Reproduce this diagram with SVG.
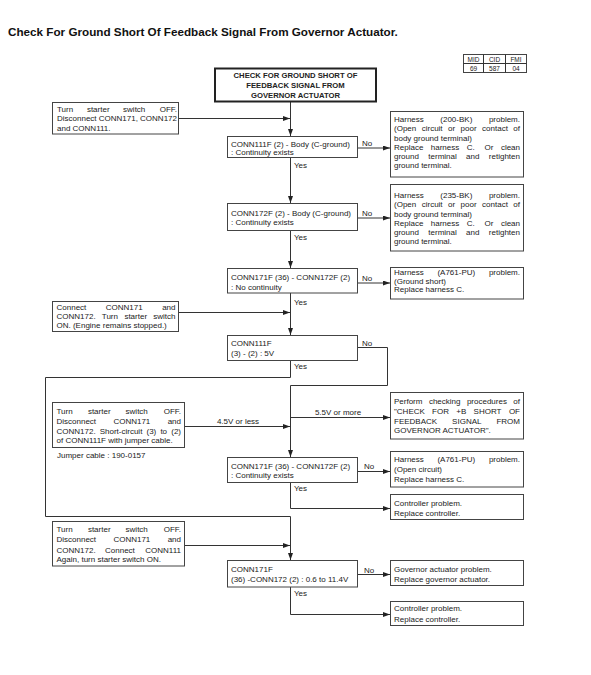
<svg xmlns="http://www.w3.org/2000/svg" width="591" height="675" viewBox="0 0 591 675">
<defs>
<marker id="ah" markerUnits="userSpaceOnUse" markerWidth="8" markerHeight="6" refX="7" refY="2.5" orient="auto">
<path d="M0,0 L7,2.5 L0,5 z" fill="#222"/>
</marker>
<style>
text{font-family:"Liberation Sans",Arial,sans-serif;fill:#222;font-size:8px}
.t{font-size:11.7px;font-weight:bold;fill:#111}
.hb{font-size:7.7px;font-weight:bold;text-anchor:middle}
.tb{font-size:6.5px;text-anchor:middle}
.box{fill:#fff;stroke:#444;stroke-width:1}
.tbox{fill:#fff;stroke:#222;stroke-width:2}
.ln{fill:none;stroke:#333;stroke-width:1}
.ar{fill:none;stroke:#333;stroke-width:1;marker-end:url(#ah)}
.e{text-anchor:end}
</style>
</defs>
<rect width="591" height="675" fill="#fff"/>
<text class="t" x="8" y="35.5">Check For Ground Short Of Feedback Signal From Governor Actuator.</text>

<g id="mid-table">
<rect class="box" x="463.5" y="54.5" width="63" height="18"/>
<line class="ln" x1="463.5" y1="63.5" x2="526.5" y2="63.5"/>
<line class="ln" x1="483.5" y1="54.5" x2="483.5" y2="72.5"/>
<line class="ln" x1="505.5" y1="54.5" x2="505.5" y2="72.5"/>
<text class="tb" x="473.5" y="61.5">MID</text>
<text class="tb" x="494.5" y="61.5">CID</text>
<text class="tb" x="516" y="61.5">FMI</text>
<text class="tb" x="473.5" y="70.5">69</text>
<text class="tb" x="494.5" y="70.5">587</text>
<text class="tb" x="516" y="70.5">04</text>
</g>

<g id="connectors">
<path class="ar" d="M290.5,102 V136"/>
<path class="ar" d="M178.5,118.5 H290"/>
<path class="ar" d="M357.5,148 H390"/>
<path class="ar" d="M290.5,157.5 V203"/>
<path class="ar" d="M357.5,218 H390"/>
<path class="ar" d="M290.5,230.5 V268"/>
<path class="ar" d="M357.5,283 H390"/>
<path class="ar" d="M290.5,293 V335"/>
<path class="ar" d="M178.5,312.5 H290"/>
<path class="ln" d="M357.5,347.5 H387.5 V385.5 H290.5"/>
<path class="ar" d="M290.5,385.5 V457"/>
<path class="ar" d="M290.5,417.5 H390"/>
<path class="ar" d="M184.5,426.5 H290"/>
<path class="ln" d="M290.5,360.5 V377.5 H45.5 V516.5 H290.5"/>
<path class="ar" d="M290.5,516.5 V560"/>
<path class="ar" d="M357.5,471.5 H390"/>
<path class="ar" d="M290.5,482.5 V508.5 H390"/>
<path class="ar" d="M184.5,545.5 H290"/>
<path class="ar" d="M357.5,574.5 H390"/>
<path class="ar" d="M290.5,587 V614.5 H390"/>
</g>

<g id="start">
<rect class="tbox" x="215" y="68.5" width="161" height="33"/>
<text class="hb" x="295.5" y="78">CHECK FOR GROUND SHORT OF</text>
<text class="hb" x="295.5" y="88">FEEDBACK SIGNAL FROM</text>
<text class="hb" x="295.5" y="98">GOVERNOR ACTUATOR</text>
</g>

<g id="step-a">
<rect class="box" x="52.5" y="102.5" width="126" height="31.5"/>
<text y="111.5"><tspan x="57">Turn</tspan><tspan x="86.9">starter</tspan><tspan x="123.1">switch</tspan><tspan x="177" class="e">OFF.</tspan></text>
<text y="121"><tspan x="57">Disconnect</tspan><tspan x="98.8">CONN171,</tspan><tspan x="177" class="e">CONN172</tspan></text>
<text x="57" y="130.5">and CONN111.</text>
</g>

<g id="q1">
<rect class="box" x="227.5" y="136.5" width="130" height="21"/>
<text x="231" y="146.5">CONN111F (2) - Body (C-ground)</text>
<text x="231" y="155">: Continuity exists</text>
</g>
<text x="362" y="146">No</text>
<text x="294" y="168">Yes</text>

<g id="r1">
<rect class="box" x="390.5" y="111.5" width="133" height="65.5"/>
<text y="122"><tspan x="394">Harness</tspan><tspan x="440.3">(200-BK)</tspan><tspan x="520" class="e">problem.</tspan></text>
<text y="131.3"><tspan x="394">(Open</tspan><tspan x="421.7">circuit</tspan><tspan x="448">or</tspan><tspan x="460.6">poor</tspan><tspan x="482.1">contact</tspan><tspan x="520" class="e">of</tspan></text>
<text x="394" y="140.5">body ground terminal)</text>
<text y="149.8"><tspan x="394">Replace</tspan><tspan x="430.8">harness</tspan><tspan x="466.8">C.</tspan><tspan x="484.5">Or</tspan><tspan x="520" class="e">clean</tspan></text>
<text y="159"><tspan x="394">ground</tspan><tspan x="428.3">terminal</tspan><tspan x="466.1">and</tspan><tspan x="520" class="e">retighten</tspan></text>
<text x="394" y="168.3">ground terminal.</text>
</g>

<g id="q2">
<rect class="box" x="227.5" y="203.5" width="130" height="27"/>
<text x="231" y="215.5">CONN172F (2) - Body (C-ground)</text>
<text x="231" y="225">: Continuity exists</text>
</g>
<text x="362" y="216">No</text>
<text x="294" y="240">Yes</text>

<g id="r2">
<rect class="box" x="390.5" y="184.5" width="133" height="66.5"/>
<text y="198"><tspan x="394">Harness</tspan><tspan x="440.3">(235-BK)</tspan><tspan x="520" class="e">problem.</tspan></text>
<text y="207.3"><tspan x="394">(Open</tspan><tspan x="421.7">circuit</tspan><tspan x="448">or</tspan><tspan x="460.6">poor</tspan><tspan x="482.1">contact</tspan><tspan x="520" class="e">of</tspan></text>
<text x="394" y="216.5">body ground terminal)</text>
<text y="225.8"><tspan x="394">Replace</tspan><tspan x="430.8">harness</tspan><tspan x="466.8">C.</tspan><tspan x="484.5">Or</tspan><tspan x="520" class="e">clean</tspan></text>
<text y="235"><tspan x="394">ground</tspan><tspan x="428.3">terminal</tspan><tspan x="466.1">and</tspan><tspan x="520" class="e">retighten</tspan></text>
<text x="394" y="244.3">ground terminal.</text>
</g>

<g id="q3">
<rect class="box" x="227.5" y="268.5" width="130" height="24.5"/>
<text x="231" y="280">CONN171F (36) - CONN172F (2)</text>
<text x="231" y="289.5">: No continuity</text>
</g>
<text x="362" y="281">No</text>
<text x="294" y="305">Yes</text>

<g id="r3">
<rect class="box" x="390.5" y="267.5" width="133" height="31.5"/>
<text y="275"><tspan x="394">Harness</tspan><tspan x="437.4">(A761-PU)</tspan><tspan x="520" class="e">problem.</tspan></text>
<text x="394" y="283.5">(Ground short)</text>
<text x="394" y="292">Replace harness C.</text>
</g>

<g id="step-b">
<rect class="box" x="52.5" y="301.5" width="126" height="30"/>
<text y="310"><tspan x="56.5">Connect</tspan><tspan x="105.8">CONN171</tspan><tspan x="175.5" class="e">and</tspan></text>
<text y="319"><tspan x="56.5">CONN172.</tspan><tspan x="101.8">Turn</tspan><tspan x="124.4">starter</tspan><tspan x="175.5" class="e">switch</tspan></text>
<text x="56.5" y="328">ON. (Engine remains stopped.)</text>
</g>

<g id="q4">
<rect class="box" x="227.5" y="335.5" width="130" height="25"/>
<text x="231" y="346">CONN111F</text>
<text x="231" y="356">(3) - (2) : 5V</text>
</g>
<text x="362" y="345.5">No</text>
<text x="294" y="369">Yes</text>

<g id="step-c">
<rect class="box" x="52.5" y="402.5" width="132" height="45"/>
<text y="413.5"><tspan x="56.5">Turn</tspan><tspan x="87.9">starter</tspan><tspan x="125.6">switch</tspan><tspan x="181" class="e">OFF.</tspan></text>
<text y="423.5"><tspan x="56.5">Disconnect</tspan><tspan x="113.4">CONN171</tspan><tspan x="181" class="e">and</tspan></text>
<text y="433.5"><tspan x="56.5">CONN172.</tspan><tspan x="99.7">Short-circuit</tspan><tspan x="146.5">(3)</tspan><tspan x="160.4">to</tspan><tspan x="181" class="e">(2)</tspan></text>
<text x="56.5" y="443">of CONN111F with jumper cable.</text>
</g>
<text x="57" y="458">Jumper cable : 190-0157</text>
<text x="238" y="423.5" text-anchor="middle">4.5V or less</text>
<text x="338" y="414.5" text-anchor="middle">5.5V or more</text>

<g id="r4">
<rect class="box" x="390.5" y="392.5" width="133" height="46.5"/>
<text y="404"><tspan x="394">Perform</tspan><tspan x="428.9">checking</tspan><tspan x="466.9">procedures</tspan><tspan x="520" class="e">of</tspan></text>
<text y="413.5"><tspan x="394">"CHECK</tspan><tspan x="432.1">FOR</tspan><tspan x="456.3">+B</tspan><tspan x="473.6">SHORT</tspan><tspan x="520" class="e">OF</tspan></text>
<text y="423.5"><tspan x="394">FEEDBACK</tspan><tspan x="452.1">SIGNAL</tspan><tspan x="520" class="e">FROM</tspan></text>
<text x="394" y="433">GOVERNOR ACTUATOR".</text>
</g>

<g id="q5">
<rect class="box" x="227.5" y="457.5" width="130" height="25"/>
<text x="231" y="468.5">CONN171F (36) - CONN172F (2)</text>
<text x="231" y="478">: Continuity exists</text>
</g>
<text x="364" y="469">No</text>
<text x="294" y="490.5">Yes</text>

<g id="r5">
<rect class="box" x="390.5" y="451.5" width="133" height="35.5"/>
<text y="462"><tspan x="394">Harness</tspan><tspan x="437.4">(A761-PU)</tspan><tspan x="520" class="e">problem.</tspan></text>
<text x="394" y="472">(Open circuit)</text>
<text x="394" y="482">Replace harness C.</text>
</g>

<g id="r6">
<rect class="box" x="390.5" y="494.5" width="133" height="25"/>
<text x="394" y="505.5">Controller problem.</text>
<text x="394" y="515.5">Replace controller.</text>
</g>

<g id="step-d">
<rect class="box" x="52.5" y="521.5" width="132" height="44.5"/>
<text y="532"><tspan x="56.5">Turn</tspan><tspan x="87.9">starter</tspan><tspan x="125.6">switch</tspan><tspan x="181" class="e">OFF.</tspan></text>
<text y="542"><tspan x="56.5">Disconnect</tspan><tspan x="113.4">CONN171</tspan><tspan x="181" class="e">and</tspan></text>
<text y="552.5"><tspan x="56.5">CONN172.</tspan><tspan x="105">Connect</tspan><tspan x="181" class="e">CONN111</tspan></text>
<text x="56.5" y="562">Again, turn starter switch ON.</text>
</g>

<g id="q6">
<rect class="box" x="227.5" y="560.5" width="130" height="26.5"/>
<text x="231" y="572">CONN171F</text>
<text x="231" y="582">(36) -CONN172 (2) : 0.6 to 11.4V</text>
</g>
<text x="364" y="572.5">No</text>
<text x="294" y="595.5">Yes</text>

<g id="r7">
<rect class="box" x="390.5" y="560.5" width="133" height="25"/>
<text x="394" y="572">Governor actuator problem.</text>
<text x="394" y="582">Replace governor actuator.</text>
</g>

<g id="r8">
<rect class="box" x="390.5" y="601.5" width="133" height="24"/>
<text x="394" y="611">Controller problem.</text>
<text x="394" y="622">Replace controller.</text>
</g>
</svg>
